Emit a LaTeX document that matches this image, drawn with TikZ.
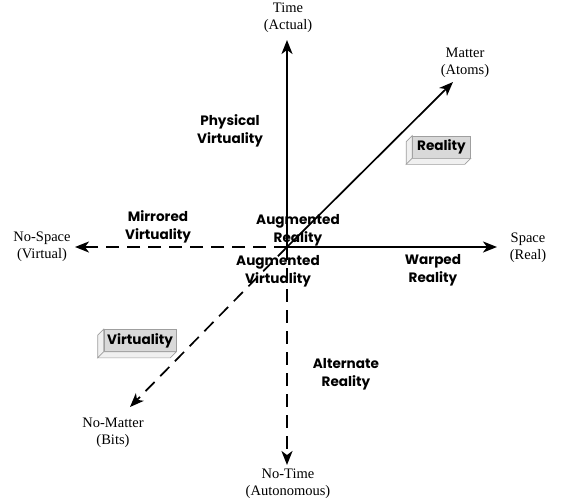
\documentclass[tikz,border=0pt]{standalone}
\usepackage{fontspec}
\setmainfont{Liberation Serif}
\newfontfamily\zonefont{Poppins}
\usetikzlibrary{arrows.meta}
\tikzset{
	axis/.style={line width=1.7pt,-{Stealth[length=14pt,width=11pt,inset=4pt]}},
	dashaxis/.style={axis,dash pattern=on 13pt off 8pt},
	pole/.style={align=center,font=\fontsize{14.5}{17}\selectfont},
	zone/.style={align=center,font=\zonefont\bfseries\fontsize{13.6}{18}\selectfont},
	slab/.style={draw=gray!75,fill=gray!30,line width=0.6pt,minimum width=58pt,minimum height=22pt,inner sep=0pt,font=\zonefont\bfseries\fontsize{13.6}{14}\selectfont},
	slabside/.style={draw=gray!75,fill=gray!12,line width=0.6pt}
}
\begin{document}
\begin{tikzpicture}[x=1pt,y=-1pt]
		\useasboundingbox (0,0) rectangle (563,501);
		% axes
		\coordinate (O) at (287,247);
		\coordinate (time) at (287,40);
		\coordinate (notime) at (287,465);
		\coordinate (space) at (497,247);
		\coordinate (nospace) at (75,247);
		\coordinate (matter) at (453,82);
		\coordinate (nomatter) at (130,407);
		\draw[axis] (O) -- (time);
		\draw[axis] (O) -- (space);
		\draw[axis] (O) -- (matter);
		\draw[dashaxis] (O) -- (notime);
		\draw[dashaxis] (O) -- (nospace);
		\draw[dashaxis] (O) -- (nomatter);
		% poles
		\node[pole] (timelbl) at (288,18) {Time\\(Actual)};
		\node[pole] (notimelbl) at (288,484) {No-Time\\(Autonomous)};
		\node[pole] (spacelbl) at (528,248) {Space\\(Real)};
		\node[pole] (nospacelbl) at (42,247) {No-Space\\(Virtual)};
		\node[pole] (matterlbl) at (465,63) {Matter\\(Atoms)};
		\node[pole] (nomatterlbl) at (113,433) {No-Matter\\(Bits)};
		% zones
		\node[zone] (physical) at (230,131) {Physical\\Virtuality};
		\node[zone] (mirrored) at (158,227) {Mirrored\\Virtuality};
		\node[zone] (augreal) at (298,230) {Augmented\\Reality};
		\node[zone] (augvirt) at (278,271) {Augmented\\Virtuality};
		\node[zone] (warped) at (433,270) {Warped\\Reality};
		\node[zone] (alternate) at (346,374) {Alternate\\Reality};
		% slabs
		\node[slab] (reality) at (441.5,147) {Reality};
		\node[slab,minimum width=72pt] (virtuality) at (140,340.5) {Virtuality};
		\foreach \s in {reality,virtuality}{
			\draw[slabside] (\s.north west) -- ++(-6,6) -- ([shift={(-6,6)}]\s.south west) -- (\s.south west) -- cycle;
			\draw[slabside] (\s.south west) -- ++(-6,6) -- ([shift={(-6,6)}]\s.south east) -- (\s.south east) -- cycle;
		}
	\end{tikzpicture}
\end{document}
